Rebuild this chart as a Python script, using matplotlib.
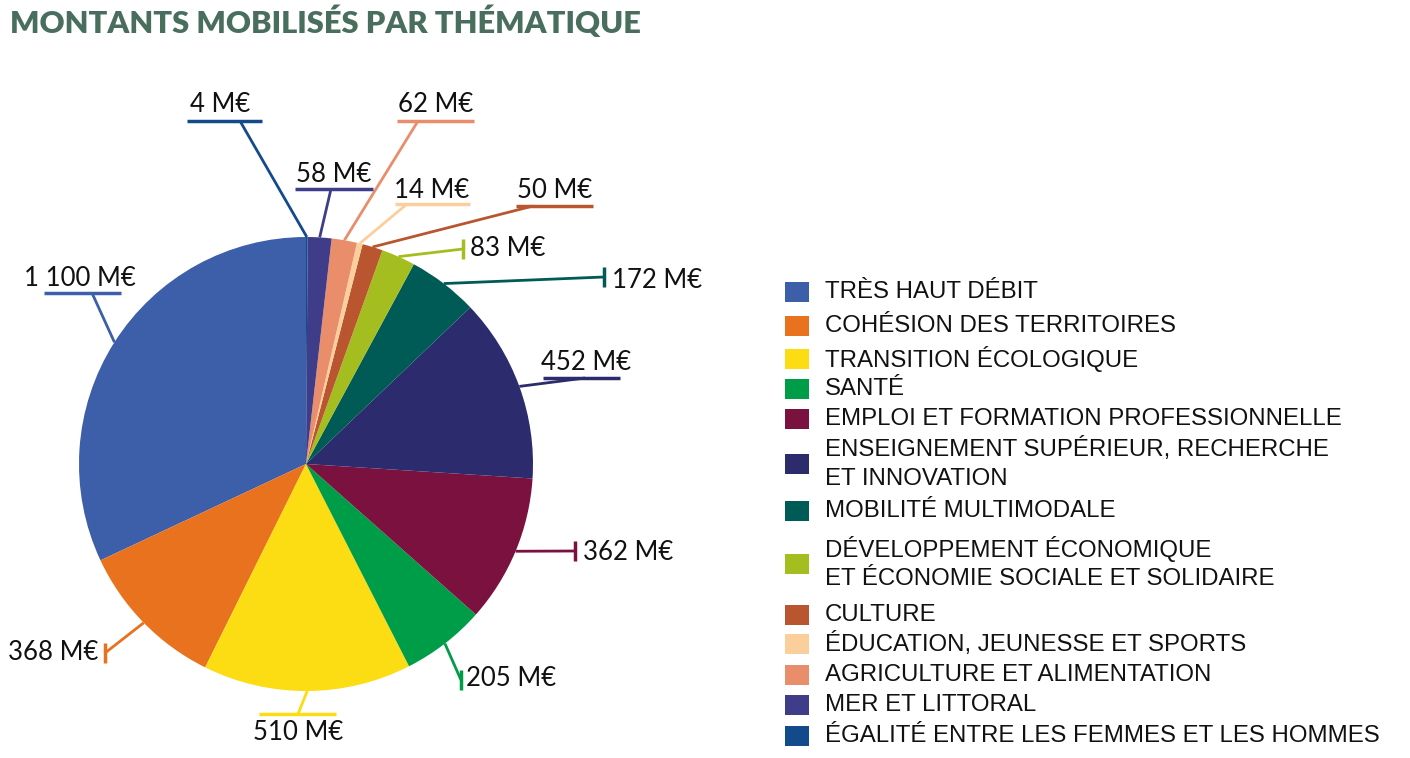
import numpy as np
import matplotlib.pyplot as plt

W, H = 1410, 758

themes = [
    "TRÈS HAUT DÉBIT",
    "COHÉSION DES TERRITOIRES",
    "TRANSITION ÉCOLOGIQUE",
    "SANTÉ",
    "EMPLOI ET FORMATION PROFESSIONNELLE",
    "ENSEIGNEMENT SUPÉRIEUR, RECHERCHE\nET INNOVATION",
    "MOBILITÉ MULTIMODALE",
    "DÉVELOPPEMENT ÉCONOMIQUE\nET ÉCONOMIE SOCIALE ET SOLIDAIRE",
    "CULTURE",
    "ÉDUCATION, JEUNESSE ET SPORTS",
    "AGRICULTURE ET ALIMENTATION",
    "MER ET LITTORAL",
    "ÉGALITÉ ENTRE LES FEMMES ET LES HOMMES",
]
amounts = [1100, 368, 510, 205, 362, 452, 172, 83, 50, 14, 62, 58, 4]
colors = ["#3d5ea8", "#e9721f", "#fcdc12", "#009d48", "#7b113e", "#2c2b6d",
          "#005a55", "#a4be1f", "#b9562f", "#fbcf9b", "#e98d6a", "#3f3d8a",
          "#134a8b"]
value_labels = [f"{v:,} M€".replace(",", " ") for v in amounts]

# label layout in image pixels (y down): kind, text x, text y, ha, knee x, knee y, underline x0, x1
label_layout = [
    ("under", 80, 278, "center", 92, 293, 44, 121),
    ("tick", 98, 653, "right", 105, 653, None, None),
    ("under", 298, 733, "center", 298, 714, 259, 336),
    ("tick", 466, 678, "left", 461, 680, None, None),
    ("tick", 583, 553, "left", 575, 551, None, None),
    ("under", 586, 362, "center", 585, 378, 543, 620),
    ("tick", 612, 280, "left", 604, 277, None, None),
    ("tick", 470, 248, "left", 463, 249, None, None),
    ("under", 555, 191, "center", 533, 206, 516, 593),
    ("under", 432, 191, "center", 407, 204, 395, 470),
    ("under", 436, 105, "center", 418, 121, 397, 474),
    ("under", 334, 175, "center", 331, 189, 295, 373),
    ("under", 220, 105, "center", 240, 121, 187, 262),
]
legend_rows = [292, 326, 359, 389, 419, 464, 511, 564, 615, 644, 675, 705, 736]

cx, cy, r = 306, 464, 227


def py(y):
    return H - y


fig = plt.figure(figsize=(W / 100, H / 100), dpi=100)
ax = fig.add_axes([0, 0, 1, 1])

wedges, _ = ax.pie(amounts, colors=colors, startangle=90, counterclock=True,
                   radius=r, center=(cx, py(cy)),
                   wedgeprops=dict(linewidth=0))
ax.set_xlim(0, W)
ax.set_ylim(0, H)
ax.set_aspect("auto")
ax.axis("off")

for w, col, lab, lay in zip(wedges, colors, value_labels, label_layout):
    kind, tx, ty, ha, kx, ky, x0, x1 = lay
    th = np.deg2rad((w.theta1 + w.theta2) / 2)
    ex, ey = cx + r * np.cos(th), py(cy) + r * np.sin(th)
    ax.plot([ex, kx], [ey, py(ky)], color=col, lw=2.0, solid_capstyle="butt")
    if kind == "under":
        ax.plot([x0, x1], [py(ky), py(ky)], color=col, lw=2.5, solid_capstyle="butt")
    else:
        ax.plot([kx, kx], [py(ky) - 10, py(ky) + 10], color=col, lw=2.5,
                solid_capstyle="butt")
    ax.text(tx, py(ty), lab, ha=ha, va="center", fontsize=18.5, family="Lato",
            color="#111111")

# legend
for name, col, yc in zip(themes, colors, legend_rows):
    ax.add_patch(plt.Rectangle((785, py(yc) - 10), 24, 20, color=col, lw=0))
    lines = name.split("\n")
    n = len(lines)
    for i, line in enumerate(lines):
        yy = yc + (i - (n - 1) / 2) * 30
        ax.text(825, py(yy), line, ha="left", va="center", fontsize=17.3,
                family="Liberation Sans", color="#111111")

fig.text(10 / W, 1 - 22 / H, "MONTANTS MOBILISÉS PAR THÉMATIQUE", ha="left",
         va="center", fontsize=22.2, family="Lato", weight="heavy", color="#4a6e5e")

fig.savefig("out.png", dpi=100)
